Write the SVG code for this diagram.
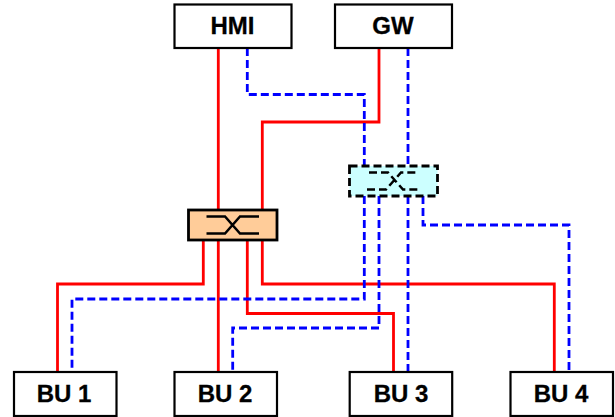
<svg xmlns="http://www.w3.org/2000/svg" width="615" height="417" viewBox="0 0 615 417">
<style>
.box{fill:#fff;stroke:#000;stroke-width:2.200}
.lbl{font-family:"Liberation Sans",Arial,sans-serif;font-weight:bold;font-size:24px;fill:#000;stroke:#000;stroke-width:0.300;text-anchor:middle}
.red{fill:none;stroke:#f00;stroke-width:2.800}
.blue{fill:none;stroke:#00f;stroke-width:2.800;stroke-dasharray:8 4}
.sym{fill:none;stroke:#000;stroke-width:2.500}
</style>
<rect width="615" height="417" fill="#fff"/>
<g id="connectors">
<path class="red" d="M218.3 48V372"/>
<path class="red" d="M379 48V122H262.3V210"/>
<path class="red" d="M203.3 240V284H57.5V372"/>
<path class="red" d="M262.3 240V284H554.3V372"/>
<path class="red" d="M247.3 240V313.5H393.5V372"/>
<path class="blue" d="M247.3 48V94.5H364.3V166"/>
<path class="blue" d="M408 48V166"/>
<path class="blue" d="M364.3 196V299H72V372"/>
<path class="blue" d="M379 196V328H232.7V372"/>
<path class="blue" d="M408 196V372"/>
<path class="blue" d="M423 196V225H569V372"/>
</g>
<g id="hmi"><rect class="box" x="174.5" y="4.5" width="117" height="43.5"/><text class="lbl" x="232.5" y="34">HMI</text></g>
<g id="gw"><rect class="box" x="335" y="4.5" width="117" height="43.5"/><text class="lbl" x="393" y="34">GW</text></g>
<g id="bu1"><rect class="box" x="14" y="372" width="102.500" height="44"/><text class="lbl" x="64" y="402">BU 1</text></g>
<g id="bu2"><rect class="box" x="174.500" y="372" width="102.500" height="44"/><text class="lbl" x="225" y="402">BU 2</text></g>
<g id="bu3"><rect class="box" x="349.700" y="372" width="102.500" height="44"/><text class="lbl" x="401" y="402">BU 3</text></g>
<g id="bu4"><rect class="box" x="510.500" y="372" width="102.500" height="44"/><text class="lbl" x="561" y="402">BU 4</text></g>
<g id="switch-red">
<rect x="188.500" y="210" width="88.500" height="30" fill="#fc9" stroke="#000" stroke-width="2.800"/>
<path class="sym" d="M206.500 216.500H225L240 233.500H259M206.500 233.500H225L240 216.500H259"/>
</g>
<g id="switch-blue">
<rect x="349.500" y="166" width="88" height="30" fill="#cff" stroke="#000" stroke-width="2.800" stroke-dasharray="8 4"/>
<path class="sym" stroke-dasharray="8 4" d="M369 172.500H388L403 189.500H420M367 189.500H386L401 172.500H418"/>
</g>
</svg>
